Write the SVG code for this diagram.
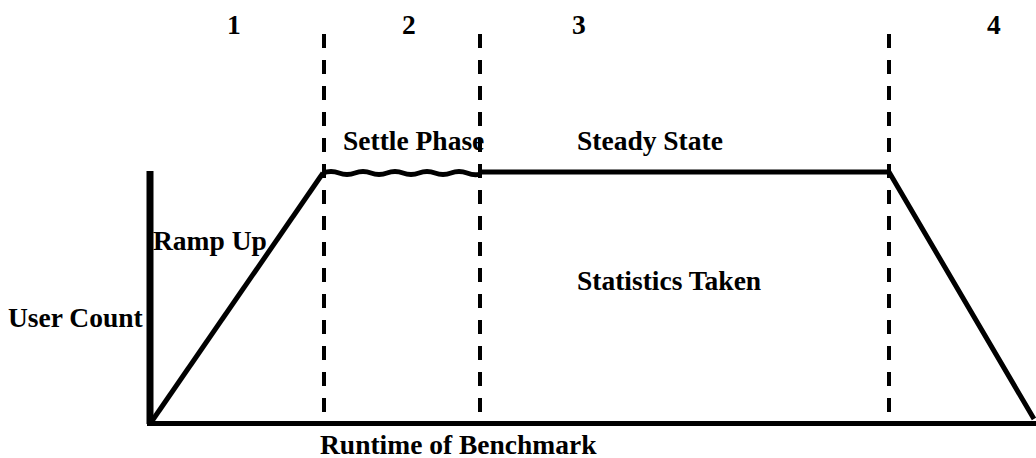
<svg xmlns="http://www.w3.org/2000/svg" width="1036" height="458" viewBox="0 0 1036 458">
<style>
.t{font-family:"Liberation Serif","Times New Roman",serif;font-weight:bold;font-size:27.5px;fill:#000}
.dash{stroke:#000;stroke-width:4;stroke-dasharray:14 12;fill:none}
.line{stroke:#000;stroke-width:5;fill:none;stroke-linejoin:miter}
</style>
<rect width="1036" height="458" fill="#fff"/>
<g id="dividers">
<line class="dash" x1="324" y1="34" x2="324" y2="412"/>
<line class="dash" x1="480" y1="34" x2="480" y2="412"/>
<line class="dash" x1="889" y1="34" x2="889" y2="412"/>
</g>
<g id="axes">
<line x1="150" y1="171" x2="150" y2="424" stroke="#000" stroke-width="7"/>
<line x1="147" y1="423.5" x2="1036" y2="423.5" stroke="#000" stroke-width="5"/>
</g>
<g id="curve">
<path class="line" d="M152,421 L323,173"/>
<path class="line" d="M323,173 q8,-3 16,0 t16,0 t16,0 t16,0 t16,0 t16,0 t16,0 t16,0 t16,0 t13,1"/>
<path class="line" d="M480,172 L889,172 L1034,419"/>
</g>
<g id="labels">
<text class="t" x="227" y="34">1</text>
<text class="t" x="402" y="34">2</text>
<text class="t" x="572" y="34">3</text>
<text class="t" x="987" y="34">4</text>
<text class="t" x="343" y="150">Settle Phase</text>
<text class="t" x="577" y="150">Steady State</text>
<text class="t" x="153" y="250">Ramp Up</text>
<text class="t" x="577" y="290">Statistics Taken</text>
<text class="t" x="8" y="327">User Count</text>
<text class="t" x="320" y="454">Runtime of Benchmark</text>
</g>
</svg>
